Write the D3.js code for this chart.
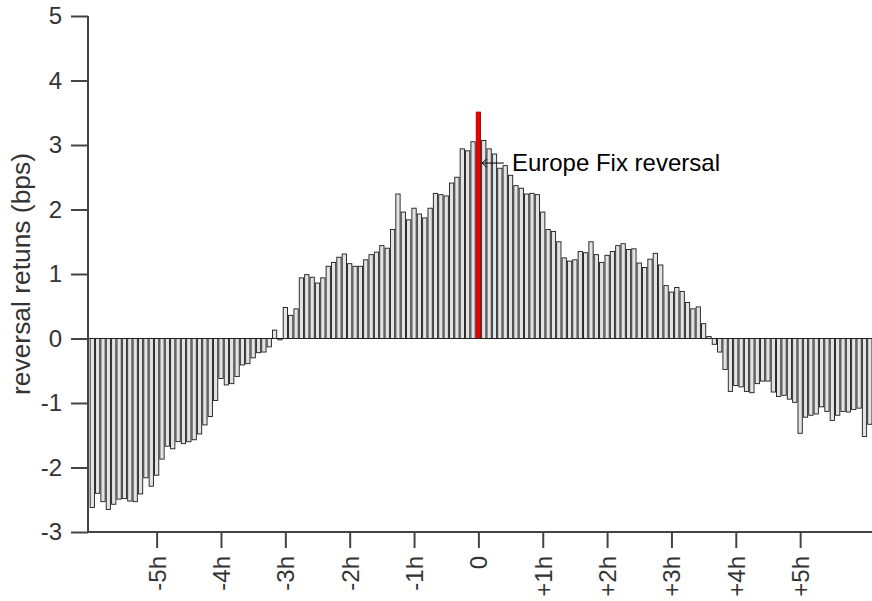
<!DOCTYPE html>
<html>
<head>
<meta charset="utf-8">
<script src="https://cdn.jsdelivr.net/npm/d3@7"></script>
<style>
  html, body { margin: 0; padding: 0; background: #fff; }
  svg { display: block; font-family: "Liberation Sans", Arial, Helvetica, sans-serif; }
</style>
</head>
<body>
<svg id="chart" width="872" height="601"></svg>
<script>
// Time offsets in 5-minute steps relative to the Europe Fix (0)
const offsets = d3.range(-72, 74); // -72 .. +73  (x 5 minutes)

// Average reversal returns (bps), one per 5-minute bar
const returnsBps = [
  -2.62, -2.40, -2.53, -2.65, -2.57, -2.49, -2.48, -2.52, -2.53, -2.41, -2.16, -2.29,
  -2.12, -1.87, -1.67, -1.71, -1.60, -1.63, -1.60, -1.57, -1.48, -1.34, -1.21, -0.96,
  -0.62, -0.72, -0.70, -0.59, -0.41, -0.39, -0.30, -0.22, -0.21, -0.13,  0.13, -0.02,
   0.48,  0.36,  0.46,  0.94,  0.99,  0.95,  0.86,  0.94,  1.12,  1.18,  1.26,  1.31,
   1.16,  1.12,  1.12,  1.22,  1.30,  1.34,  1.44,  1.40,  1.69,  2.24,  1.96,  1.84,
   2.02,  1.93,  1.87,  2.02,  2.25,  2.23,  2.21,  2.41,  2.50,  2.94,  2.91,  3.05,
   3.51,
   3.07,  2.94,  2.86,  2.64,  2.68,  2.53,  2.37,  2.33,  2.24,  2.25,  2.23,  1.96,
   1.69,  1.66,  1.50,  1.25,  1.20,  1.22,  1.35,  1.33,  1.50,  1.30,  1.18,  1.29,
   1.35,  1.44,  1.47,  1.38,  1.39,  1.17,  1.10,  1.23,  1.32,  1.14,  0.82,  0.72,
   0.79,  0.73,  0.56,  0.46,  0.49,  0.23,  0.03, -0.09, -0.21, -0.48, -0.82, -0.73,
  -0.75, -0.82, -0.84, -0.70, -0.66, -0.66, -0.83, -0.90, -0.88, -0.94, -0.99, -1.47,
  -1.22, -1.19, -1.17, -1.06, -1.13, -1.27, -1.19, -1.13, -1.14, -1.10, -1.08, -1.52,
  -1.33
];

const xTickHours = [-5, -4, -3, -2, -1, 0, 1, 2, 3, 4, 5];
const xTickLabels = ["-5h", "-4h", "-3h", "-2h", "-1h", "0", "+1h", "+2h", "+3h", "+4h", "+5h"];
const yTicks = [-3, -2, -1, 0, 1, 2, 3, 4, 5];
const yTickLabels = ["-3", "-2", "-1", "0", "1", "2", "3", "4", "5"];
const highlightOffset = 0;
const annotationText = "Europe Fix reversal";
const yLabel = "reversal retuns (bps)";

const data = offsets.map((o, i) => ({ step: o, minutes: o * 5, value: returnsBps[i] }));

const svg = d3.select("#chart");
const axisColor = "#444444";
const textColor = "#333333";
const fontFam = "'Liberation Sans', Arial, sans-serif";

// scales (minutes from the fix)
const x = d3.scaleLinear().domain([-364, 367]).range([88, 872]);
const y = d3.scaleLinear().domain([-3, 5]).range([532, 16]);

const slot = x(5) - x(0);
const barW = slot * 0.8;

// bars
svg.append("g")
  .selectAll("rect")
  .data(data)
  .join("rect")
  .attr("x", d => x(d.minutes) - barW / 2)
  .attr("width", barW)
  .attr("y", d => y(Math.max(0, d.value)))
  .attr("height", d => Math.abs(y(d.value) - y(0)))
  .attr("fill", d => d.step === highlightOffset ? "#ee0000" : "#e3e3e3")
  .attr("stroke", d => d.step === highlightOffset ? "#990000" : "#1a1a1a")
  .attr("stroke-width", 0.9);

// zero line
svg.append("line")
  .attr("x1", x.range()[0]).attr("x2", x.range()[1])
  .attr("y1", y(0)).attr("y2", y(0))
  .attr("stroke", "#222").attr("stroke-width", 1);

// Y axis
const yAxis = d3.axisLeft(y).tickValues(yTicks).tickSize(17).tickPadding(9)
  .tickFormat((d, i) => yTickLabels[i]);
const gy = svg.append("g").attr("transform", `translate(${x.range()[0]},0)`).call(yAxis);
gy.select(".domain").attr("stroke", axisColor).attr("stroke-width", 2)
  .attr("d", `M0,${y(5)}V${y(-3)}`);
gy.selectAll(".tick line").attr("stroke", axisColor).attr("stroke-width", 2);
gy.selectAll(".tick text").attr("fill", textColor)
  .style("font-size", "24px").style("font-family", fontFam);

// X axis
const xAxis = d3.axisBottom(x).tickValues(xTickHours.map(h => h * 60)).tickSize(16)
  .tickFormat((d, i) => xTickLabels[i]);
const gx = svg.append("g").attr("transform", `translate(0,${y(-3)})`).call(xAxis);
gx.select(".domain").attr("stroke", axisColor).attr("stroke-width", 2)
  .attr("d", `M${x.range()[0]},0H${x.range()[1]}`);
gx.selectAll(".tick line").attr("stroke", axisColor).attr("stroke-width", 2);
gx.selectAll(".tick text")
  .attr("fill", textColor)
  .style("font-size", "24px").style("font-family", fontFam)
  .attr("text-anchor", "end")
  .attr("transform", "rotate(-90)")
  .attr("x", -24)
  .attr("y", 0)
  .attr("dy", "0.35em");

// Y label
svg.append("text")
  .attr("transform", `translate(30,${(y(5) + y(-3)) / 2}) rotate(-90)`)
  .attr("text-anchor", "middle")
  .attr("fill", textColor)
  .style("font-size", "26.4px")
  .text(yLabel);

// annotation with arrow
const ay = y(2.72);
const tipX = x(0) + 3.5;
svg.append("line")
  .attr("x1", tipX).attr("x2", tipX + 22)
  .attr("y1", ay).attr("y2", ay)
  .attr("stroke", "#000").attr("stroke-width", 1);
svg.append("path")
  .attr("d", `M${tipX + 5},${ay - 4}L${tipX},${ay}L${tipX + 5},${ay + 4}`)
  .attr("fill", "none").attr("stroke", "#000").attr("stroke-width", 1);
svg.append("text")
  .attr("x", tipX + 30)
  .attr("y", ay + 8)
  .attr("fill", "#000")
  .style("font-size", "24px")
  .text(annotationText);
</script>
</body>
</html>
